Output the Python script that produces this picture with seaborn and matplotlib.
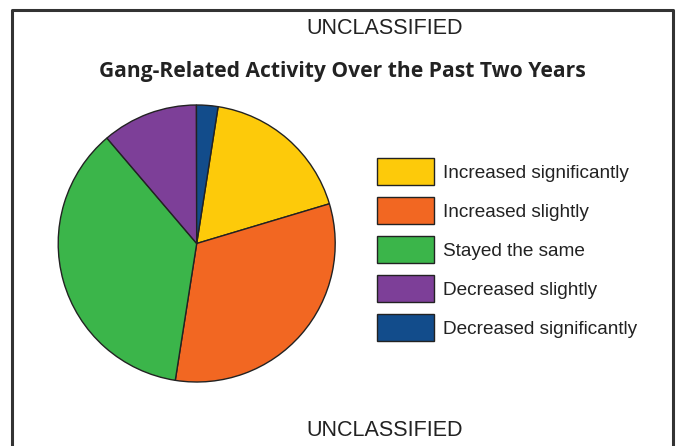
import matplotlib
matplotlib.use("Agg")
import matplotlib.pyplot as plt
import matplotlib.patches as mpatches
import seaborn as sns

# share of respondents (percent)
categories = ["Increased significantly", "Increased slightly", "Stayed the same",
              "Decreased slightly", "Decreased significantly"]
shares = [17.9, 32.1, 36.3, 11.2, 2.5]
colors = ["#FDCA0A", "#F26722", "#3BB54A", "#7D3F98", "#124C8B"]

sns.set_theme(style="white")
plt.rcParams["font.family"] = ["Liberation Sans", "DejaVu Sans"]

W, H = 677, 446
fig = plt.figure(figsize=(W / 100, H / 100), dpi=100)
fig.patch.set_facecolor("white")

# pie axes: centre ~ (197, 243) px, radius ~ 138 px
cx, cy, r = 196.7, 243.5, 138.5
ax = fig.add_axes([(cx - r) / W, 1 - (cy + r) / H, 2 * r / W, 2 * r / H])
start = 90 - 8.9  # first slice begins just right of 12 o'clock
wedges, _ = ax.pie(shares, colors=colors, startangle=start, counterclock=False,
                   wedgeprops=dict(edgecolor="#222222", linewidth=1.0))
ax.set_aspect("equal")
ax.set_xlim(-1, 1)
ax.set_ylim(-1, 1)
ax.axis("off")

# outer frame (no bottom edge)
fig.add_artist(plt.Line2D([12 / W, 12 / W, 673 / W, 673 / W],
                          [0, 1 - 10 / H, 1 - 10 / H, 0],
                          transform=fig.transFigure, color="#333333", lw=2.2))

fig.text(385 / W, 1 - 29 / H, "UNCLASSIFIED", ha="center", va="center",
         fontsize=15.5, color="#222222")
fig.text(342.5 / W, 1 - 72 / H, "Gang-Related Activity Over the Past Two Years",
         ha="center", va="center", fontsize=15.15, fontweight="bold",
         color="#222222", family=["Open Sans", "DejaVu Sans"])
fig.text(385 / W, 1 - 430 / H, "UNCLASSIFIED", ha="center", va="center",
         fontsize=15.5, color="#222222")

fs = 13.7
handles = [mpatches.Patch(facecolor=c, edgecolor="#222222", linewidth=1.0, label=l)
           for c, l in zip(colors, categories)]
leg = fig.legend(handles=handles, loc="upper left",
                 bbox_to_anchor=(377 / W, 1 - 158.5 / H),
                 frameon=False, fontsize=fs, handlelength=3.0, handleheight=1.806,
                 handletextpad=0.45, labelspacing=0.63, borderpad=0, borderaxespad=0)
for t in leg.get_texts():
    t.set_color("#222222")

fig.savefig("out.png", dpi=100)
